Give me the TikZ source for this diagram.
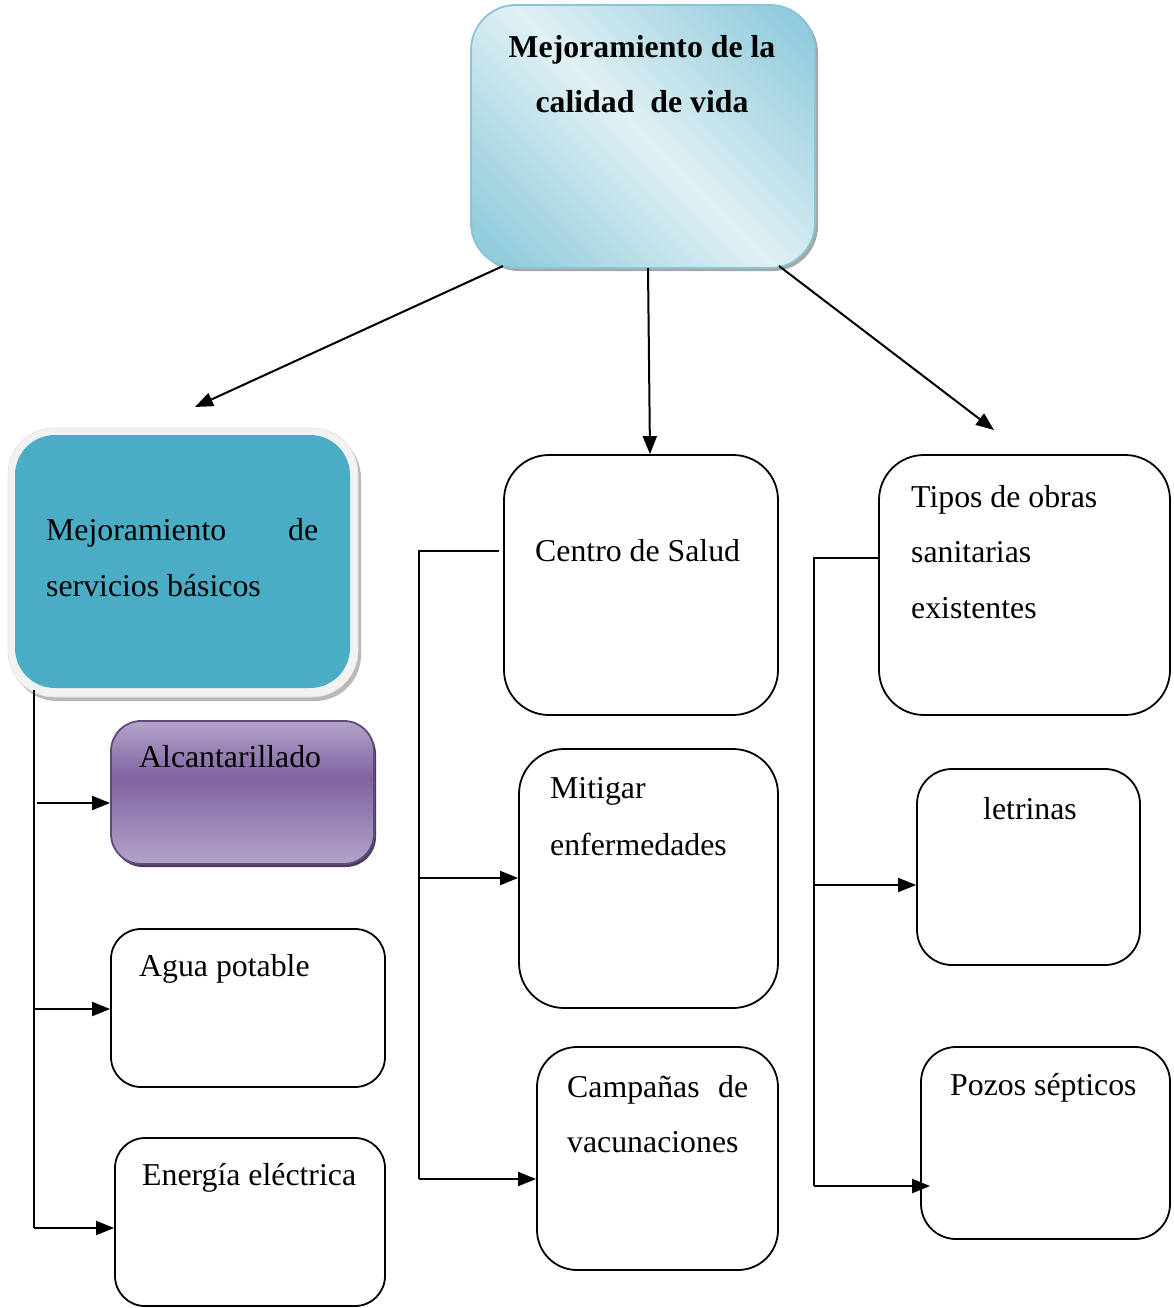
\documentclass[tikz,border=0pt]{standalone}
\usepackage{fontspec}
\setmainfont{Liberation Serif}
\usetikzlibrary{arrows.meta,shadows}
\definecolor{topA}{HTML}{93CDDD}
\definecolor{topB}{HTML}{E0F0F4}
\definecolor{topBorder}{HTML}{86C4D6}
\definecolor{blueFill}{HTML}{4BACC6}
\definecolor{frameFill}{HTML}{F2F2F2}
\definecolor{purA}{HTML}{B3A3C8}
\definecolor{purB}{HTML}{8064A2}
\definecolor{purBorder}{HTML}{604A7B}
\pgfdeclareverticalshading{topgrad}{100bp}{color(0bp)=(topA); color(20bp)=(topA); color(50bp)=(topB); color(80bp)=(topA); color(100bp)=(topA)}
\pgfdeclareverticalshading{purgrad}{100bp}{color(0bp)=(purA); color(25bp)=(purA); color(55bp)=(purB); color(75bp)=(purA); color(100bp)=(purA)}
\tikzset{
  box/.style={draw=black, line width=1.8pt, rectangle, inner sep=0pt, rounded corners=40pt},
  txt/.style={font=\fontsize{31.8}{37}\selectfont, inner sep=0pt, anchor=base west},
  arr/.style={line width=2pt, -{Triangle[length=18pt,width=14pt]}},
  ln/.style={line width=2pt},
}
\begin{document}
\begin{tikzpicture}[x=1pt,y=-1pt]
\useasboundingbox (0,0) rectangle (1174,1308);
% top box
\node[box, draw=topBorder, shading=topgrad, shading angle=-45, rounded corners=45pt,
      minimum width=344pt, minimum height=263pt,
      drop shadow={shadow xshift=3pt, shadow yshift=-3pt, fill=gray, opacity=0.7}] (top) at (643,136.5) {};
\node[txt, anchor=base, font=\fontsize{31.8}{37}\selectfont\bfseries] (topt1) at (642,58) {Mejoramiento de la};
\node[txt, anchor=base, font=\fontsize{31.8}{37}\selectfont\bfseries] (topt2) at (642,113) {calidad\ \ de vida};
% left blue box
\node[rectangle, fill=frameFill, draw=frameFill!85!gray, line width=0.6pt, rounded corners=46pt, minimum width=350pt, minimum height=269pt,
      drop shadow={shadow xshift=3pt, shadow yshift=-4pt, fill=gray!70, opacity=0.8}] (lbframe) at (183,562.5) {};
\node[rectangle, fill=blueFill, rounded corners=40pt, minimum width=335pt, minimum height=253pt] (lb) at (182.5,561.5) {};
\node[txt] (lbt1) at (46,540) {\makebox[272pt][s]{Mejoramiento de}};
\node[txt] (lbt2) at (46,596) {servicios básicos};
% alcantarillado
\node[box, draw=purBorder, shading=purgrad, rounded corners=30pt, minimum width=263pt, minimum height=143pt,
      drop shadow={shadow xshift=2pt, shadow yshift=-3pt, fill=purBorder!80!black, opacity=1}] (alc) at (242.5,792.5) {};
\node[txt] (alct) at (139,767) {Alcantarillado};
% agua, energia
\node[box, rounded corners=30pt, minimum width=274pt, minimum height=158pt] (agua) at (248,1008) {};
\node[txt] (aguat) at (139,976) {Agua potable};
\node[box, rounded corners=30pt, minimum width=270pt, minimum height=168pt] (ener) at (250,1222) {};
\node[txt] (enert) at (142,1185) {Energía eléctrica};
% middle column
\node[box, rounded corners=45pt, minimum width=274pt, minimum height=260pt] (centro) at (641,585) {};
\node[txt] (centrot) at (535,561) {Centro de Salud};
\node[box, rounded corners=45pt, minimum width=259pt, minimum height=259pt] (mit) at (648.5,878.5) {};
\node[txt] (mitt1) at (550,798) {Mitigar};
\node[txt] (mitt2) at (550,855) {enfermedades};
\node[box, rounded corners=40pt, minimum width=241pt, minimum height=223pt] (camp) at (657.5,1158.5) {};
\node[txt] (campt1) at (567,1097) {\makebox[181pt][s]{Campañas de}};
\node[txt] (campt2) at (567,1152) {vacunaciones};
% right column
\node[box, rounded corners=45pt, minimum width=291pt, minimum height=260pt] (tipos) at (1024.5,585) {};
\node[txt] (tipost1) at (911,507) {Tipos de obras};
\node[txt] (tipost2) at (911,562) {sanitarias};
\node[txt] (tipost3) at (911,618) {existentes};
\node[box, rounded corners=35pt, minimum width=223pt, minimum height=196pt] (letr) at (1028.5,867) {};
\node[txt, anchor=base] (letrt) at (1030,819) {letrinas};
\node[box, rounded corners=35pt, minimum width=249pt, minimum height=192pt] (pozos) at (1045.5,1143) {};
\node[txt] (pozost) at (950,1095) {Pozos sépticos};
% connectors from top
\coordinate (ts1) at (503,266);
\coordinate (te1) at (195,407);
\coordinate (ts2) at (648,268);
\coordinate (ts3) at (779,266);
\coordinate (te3) at (994,430);
\draw[arr] (ts1) -- (te1);
\draw[arr] (ts2) -- (centro.north -| 650,0);
\draw[arr] (ts3) -- (te3);
% left bus
\coordinate (lbus0) at (34,690);
\coordinate (lbus1) at (37,803);
\coordinate (lbus2) at (34,1009);
\coordinate (lbus3) at (34,1228);
\draw[ln] (lbus0) -- (lbus3);
\draw[arr] (lbus1) -- (lbus1 -| alc.west);
\draw[arr] (lbus2) -- (lbus2 -| agua.west);
\draw[arr] (lbus3) -- (lbus3 -| ener.west);
% middle bus
\coordinate (mbus0) at (419,551);
\coordinate (mbus1) at (419,878);
\coordinate (mbus2) at (419,1179);
\draw[ln] ([xshift=-4pt]mbus0 -| centro.west) -- (mbus0) -- (mbus2);
\draw[arr] (mbus1) -- (mbus1 -| mit.west);
\draw[arr] (mbus2) -- (mbus2 -| camp.west);
% right bus
\coordinate (rbus0) at (814,558);
\coordinate (rbus1) at (814,885);
\coordinate (rbus2) at (814,1186);
\draw[ln] (rbus0 -| tipos.west) -- (rbus0) -- (rbus2);
\draw[arr] (rbus1) -- (rbus1 -| letr.west);
\draw[arr] (rbus2) -- ([xshift=10pt]rbus2 -| pozos.west);
\end{tikzpicture}
\end{document}
